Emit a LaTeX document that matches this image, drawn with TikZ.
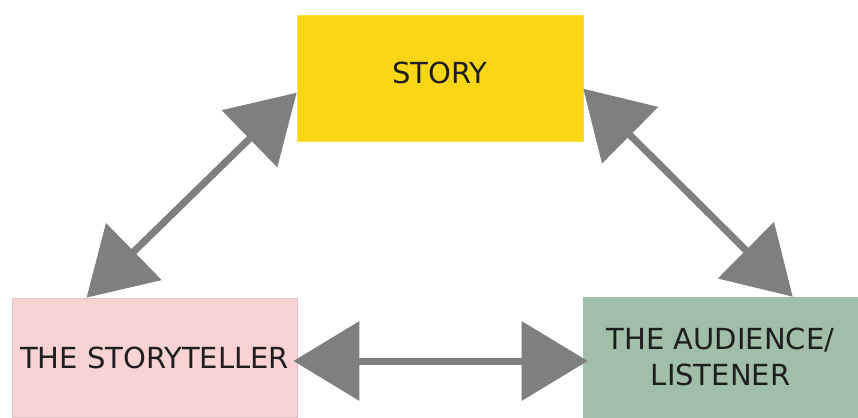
\documentclass[tikz,border=0pt]{standalone}
\usepackage{fontspec}
\setmainfont{DejaVu Sans}
\usepackage{xcolor}
\definecolor{storyyellow}{RGB}{251,214,22}
\definecolor{tellerpink}{RGB}{249,210,212}
\definecolor{audiencegreen}{RGB}{160,191,168}
\definecolor{arrowgray}{RGB}{126,127,129}
\definecolor{textdark}{RGB}{30,30,30}
\usepackage{tikz}
\usetikzlibrary{
  arrows.meta,
  positioning,
  calc
}
\tikzset{
  rolebox/.style={inner sep=0pt, align=center, text=textdark,
    font=\fontsize{29}{36}\selectfont},
  linkarr/.style={{Triangle[length=66pt,width=78pt]}-{Triangle[length=66pt,width=78pt]},
    line width=7pt, draw=arrowgray, fill=arrowgray},
}

\begin{document}
\begin{tikzpicture}[x=1pt, y=-1pt]
  \useasboundingbox[fill=white] (0,0) rectangle (858,417);

  % Three boxes
  \node[rolebox, fill=storyyellow, draw=storyyellow!80!white, line width=0.6pt,
        minimum width=286pt, minimum height=126pt, text depth=10pt] (story) at (440,78) {STORY};
  \node[rolebox, fill=tellerpink, draw=tellerpink!80!gray, line width=0.8pt,
        minimum width=285pt, minimum height=119pt] (teller) at (154.5,357.5)
    {THE STORYTELLER};
  \node[rolebox, fill=audiencegreen, draw=audiencegreen, line width=0.6pt,
        minimum width=275pt, minimum height=120pt] (audience) at (720.5,357)
    {THE AUDIENCE/\\LISTENER};

  % Arrows
  \draw[linkarr] ([xshift=75pt]teller.north west) -- ([yshift=-78pt]story.north west);
  \draw[linkarr] ([yshift=-74pt]story.north east) -- ([xshift=210pt]audience.north west);
  \draw[linkarr] ([shift={(-4pt,-3.5pt)}]teller.east)
    -- ([shift={(5pt,-3.5pt)}]teller.east -| audience.west);
\end{tikzpicture}
\end{document}
